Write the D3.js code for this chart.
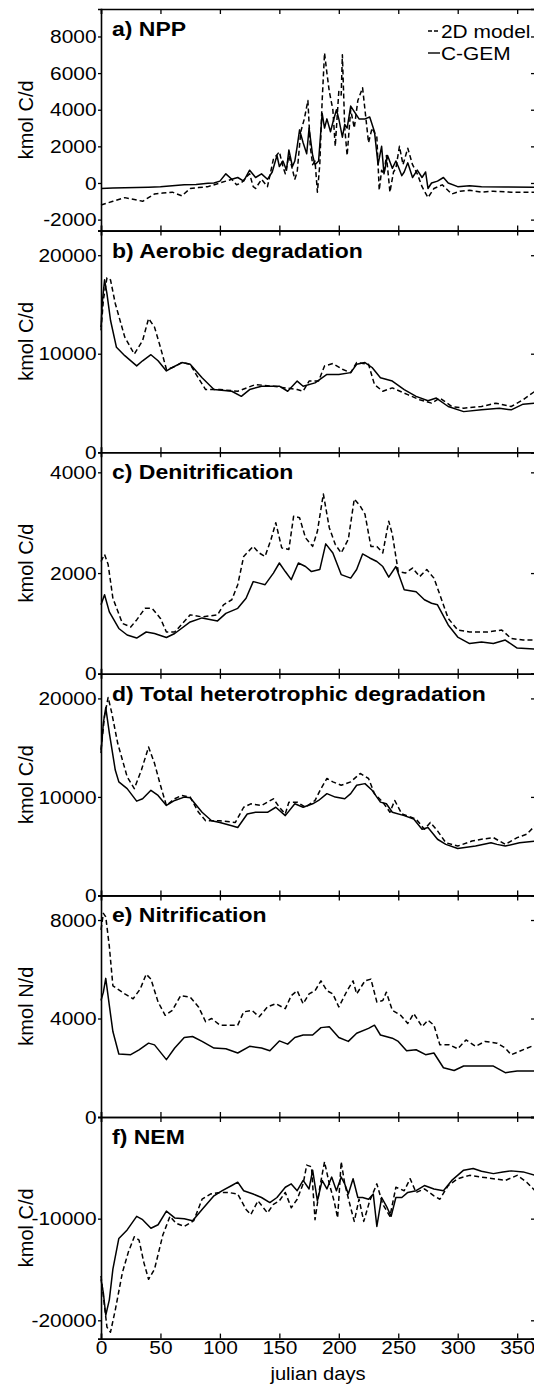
<!DOCTYPE html>
<html><head><meta charset="utf-8">
<script src="https://cdn.jsdelivr.net/npm/d3@7"></script>
<style>
html,body{margin:0;padding:0;background:#fff;}
svg{display:block;}
text{font-family:"Liberation Sans",Arial,Helvetica,sans-serif;fill:#000;}
</style></head><body>
<svg id="chart" width="534" height="1385"></svg>
<script>
// ---------- DATA ----------
const xTicks = [0, 50, 100, 150, 200, 250, 300, 350];
const panelTitles = ["a) NPP", "b) Aerobic degradation", "c) Denitrification",
  "d) Total heterotrophic degradation", "e) Nitrification", "f) NEM"];
const yLabels = ["kmol C/d", "kmol C/d", "kmol C/d", "kmol C/d", "kmol N/d", "kmol C/d"];
const yDomains = [[-2600, 9500], [0, 22500], [0, 4400], [0, 22500], [0, 9000], [-21800, 0]];
const yTicks = [[-2000, 0, 2000, 4000, 6000, 8000], [0, 10000, 20000], [0, 2000, 4000],
  [0, 10000, 20000], [0, 4000, 8000], [-20000, -10000]];
const legendLabels = ["2D model", "C-GEM"];

// a) NPP
const nppDays2D = [0,5,10,20,28,35,45,52,60,68,75,82,90,100,105,110,114,118,122,125,128,130,135,140,145,150,153,155,158,160,163,165,168,171,174,176,178,180,182,184,186,188,190,192,195,197,200,202,203,205,207,210,213,216,220,222,225,228,232,234,236,238,240,243,246,248,251,254,258,262,266,270,275,280,287,295,302,310,320,330,345,365];
const npp2D = [-1200,-1100,-1000,-800,-900,-1000,-600,-550,-500,-700,-300,-250,-200,0,100,200,-100,0,300,500,-200,-300,200,-200,1300,1700,900,500,1500,1000,200,600,2800,3500,4500,2000,1000,1200,-500,1000,4500,7100,6000,5000,4000,2000,5000,4800,7000,3000,1500,4000,3000,4500,5200,4000,2200,3000,2500,-400,700,500,1500,-500,600,800,2000,1000,1900,1000,500,-200,-800,-300,-100,-600,-450,-400,-500,-450,-500,-500];
const nppDaysCG = [0,10,20,30,40,50,60,70,80,90,95,100,105,110,115,120,125,130,135,140,144,148,150,153,156,158,161,163,165,167,170,173,175,178,180,183,186,188,190,193,195,198,200,203,205,207,210,213,217,222,226,230,233,236,238,241,245,248,250,253,255,258,262,266,270,273,275,278,283,288,292,300,310,320,340,365];
const nppCG = [-300,-280,-260,-250,-230,-200,-150,-100,-80,-20,0,100,500,200,300,100,700,300,500,200,600,1500,900,1200,700,1800,900,1200,2000,2900,2200,1600,3000,1500,1000,1200,3800,3000,3500,2800,3300,4000,3500,2500,3200,3000,4200,3900,3500,3500,3600,2800,1000,2000,500,1500,800,1200,900,400,600,1100,300,700,300,600,-300,0,100,300,0,-200,-150,-200,-220,-230];

// b) Aerobic degradation
const aerDays2D = [0,2,5,8,12,20,28,35,40,45,50,55,60,68,75,80,88,100,115,130,145,155,165,170,175,183,188,195,203,210,215,225,230,237,245,258,268,278,285,295,305,320,332,345,355,365];
const aer2D = [12370,15460,17700,17500,15100,11680,9960,11340,13570,12700,10650,8420,8590,9100,8930,7900,6360,6360,6190,6870,6700,6530,6360,6190,7220,7220,8760,9000,8420,8080,9100,8930,6870,6190,6530,5840,5330,4980,5500,4640,4470,4640,4980,4640,5330,6190];
const aerDaysCG = [0,1,3,5,8,13,20,30,35,42,48,55,60,68,75,85,95,110,118,125,135,150,157,165,170,180,190,200,210,215,222,228,235,245,255,265,275,282,292,305,320,335,345,355,365];
const aerCG = [12700,15100,17500,16100,13400,10650,9800,8760,9280,9900,9280,8250,8600,9100,8930,7560,6360,6190,5670,6360,6700,6700,6190,7220,6700,7040,7900,7900,8080,8930,9100,8600,7560,7220,6360,5670,5220,5500,4640,4120,4300,4470,4300,4880,4980];

// c) Denitrification
const denDays2D = [0,3,6,10,18,25,30,37,43,50,55,62,75,85,98,103,110,115,120,128,133,138,143,147,152,158,162,167,172,178,182,187,192,197,202,208,213,218,222,227,232,237,242,245,250,256,262,268,274,280,285,292,300,310,325,337,345,355,365];
const den2D = [2230,2370,2170,1500,1000,930,1070,1300,1300,1100,830,830,1170,1130,1170,1370,1470,1770,2330,2530,2400,2330,2670,3000,2500,2470,3130,3100,2700,2530,2830,3570,2900,2570,2400,2670,3470,3330,3170,2530,2530,2400,3030,2770,2030,2000,2100,1930,2070,1900,1570,1100,870,830,830,870,700,670,670];
const denDaysCG = [0,3,7,15,22,30,38,45,55,62,75,85,98,105,115,122,128,133,138,145,150,155,160,166,172,177,184,189,195,202,210,215,220,226,232,237,242,248,255,265,272,278,283,292,300,310,320,330,340,350,365];
const denCG = [1370,1570,1230,900,770,710,830,800,720,800,1030,1110,1050,1200,1300,1500,1830,1800,1770,2000,2200,2030,1870,2200,2130,2030,2070,2580,2400,1970,1900,2070,2380,2300,2230,2130,1920,2130,1670,1630,1470,1400,1370,970,730,600,630,600,670,510,490];

// d) Total heterotrophic degradation
const totDays2D = [0,3,6,9,14,22,28,34,40,45,50,55,62,68,75,82,88,100,113,120,126,135,145,150,155,158,165,172,180,185,190,195,202,210,218,225,230,237,243,247,253,265,272,277,283,290,300,312,320,330,340,350,358,365];
const tot2D = [14790,18220,20100,18560,15470,12040,10840,12730,15060,13410,11180,9130,9810,10150,9980,8440,7580,7580,7410,8950,9300,9130,9810,8950,8270,9470,9470,8950,9640,10840,11870,11530,11180,11530,12380,11870,10330,9470,8440,9640,8270,7750,6720,7410,6550,5350,5010,5520,5700,5870,5180,5870,6210,7070];
const totDaysCG = [0,2,4,7,12,15,22,30,35,42,48,55,62,70,75,85,93,100,110,115,123,130,140,147,155,163,170,178,183,190,197,205,210,215,222,228,235,240,245,255,263,270,275,283,290,300,315,328,333,340,352,365];
const totCG = [14440,17530,19070,16500,12730,11530,10840,9570,9810,10670,10150,9130,9640,9980,9910,8440,7580,7410,7070,6900,8270,8440,8440,8950,8100,9300,8950,9300,9640,10330,9980,9810,10330,11180,11350,10670,9470,9300,8440,8100,7750,6720,6900,5700,5180,4770,5010,5350,5180,5010,5350,5520];

// e) Nitrification
const nitDays2D = [0,2,4,7,10,14,20,27,33,38,42,48,54,60,67,75,82,88,93,100,110,115,120,127,133,140,147,155,160,165,170,175,180,185,190,195,200,207,212,215,222,227,232,237,240,245,252,258,263,270,275,280,285,293,300,307,315,323,333,340,345,352,365];
const nit2D = [7600,8270,8130,6930,5330,5200,5000,4800,5200,5800,5600,4670,4130,4330,4930,4870,4470,3870,4000,3730,3730,3730,4270,4330,4070,4470,4600,4400,4930,5130,4600,5000,5130,5530,5130,5000,4470,5130,5530,5000,5530,5600,4670,4730,5070,4330,4130,3800,4200,3670,3930,3730,2930,2930,2770,3130,2870,3070,3000,2800,2530,2670,2930];
const nitDaysCG = [0,2,4,7,10,15,25,32,40,45,55,62,70,77,85,95,105,115,125,135,142,150,157,163,170,178,185,192,200,208,215,225,230,235,245,250,257,265,273,280,288,297,305,315,330,340,350,365];
const nitCG = [4730,5070,5630,4530,3470,2560,2530,2730,3000,2930,2330,2800,3230,3270,3070,2800,2770,2600,2870,2800,2690,3090,2960,3230,3330,3330,3630,3670,3230,3070,3400,3600,3730,3330,3200,3070,2690,2730,2530,2600,2000,1890,2070,2070,2070,1800,1870,1870];

// f) NEM
const nemDays2D = [0,2,5,8,12,18,23,28,32,36,40,45,52,58,63,70,78,85,92,100,107,115,122,126,132,140,145,150,155,160,165,170,173,177,180,184,188,192,196,199,202,205,210,213,217,221,226,232,237,243,248,255,260,265,272,280,285,292,300,310,320,330,340,350,358,365];
const nem2D = [-15640,-17650,-20670,-21170,-18990,-15300,-13290,-11780,-12110,-14300,-15970,-14970,-11610,-9770,-10440,-10770,-10200,-8090,-7580,-7420,-7420,-7580,-9090,-9600,-8250,-9430,-8590,-8250,-7420,-8930,-8090,-6580,-4730,-4900,-10100,-6910,-4400,-6580,-8250,-9930,-4400,-6580,-8930,-10270,-8090,-10270,-8250,-6580,-8590,-9770,-6910,-7250,-6070,-7420,-7080,-7750,-8090,-6740,-6070,-5740,-5910,-6070,-6240,-5740,-6410,-7250];
const nemDaysCG = [0,2,4,7,10,15,22,30,35,42,48,55,62,70,77,85,95,102,110,115,120,128,135,142,148,155,160,165,170,175,178,182,186,190,194,198,202,205,208,212,216,220,225,229,232,236,240,244,248,253,258,265,272,280,288,295,305,313,320,330,338,345,355,365];
const nemCG = [-15970,-17320,-19500,-17990,-14970,-11950,-11110,-9770,-10100,-10940,-10600,-9260,-9930,-10000,-10200,-9090,-7750,-7250,-6740,-6410,-7250,-7580,-7920,-8420,-7920,-6910,-6580,-7250,-6240,-7080,-5230,-8250,-6240,-7080,-5910,-7250,-5910,-6580,-7580,-6070,-7920,-7920,-8090,-7580,-10770,-7920,-8760,-9770,-7920,-7920,-7420,-7250,-6740,-7080,-7250,-6240,-5230,-5070,-5340,-5570,-5400,-5300,-5400,-5740];

const seriesDays = [[nppDays2D, nppDaysCG],[aerDays2D, aerDaysCG],[denDays2D, denDaysCG],[totDays2D, totDaysCG],[nitDays2D, nitDaysCG],[nemDays2D, nemDaysCG]];
const seriesVals = [[npp2D, nppCG],[aer2D, aerCG],[den2D, denCG],[tot2D, totCG],[nit2D, nitCG],[nem2D, nemCG]];

// ---------- LAYOUT ----------
const svg = d3.select("#chart");
const left = 101, right = 535, top0 = 9, ph = 221.6;
const x = d3.scaleLinear().domain([0, 365]).range([left, right]);
const FS = 19, SX = 1.1;
const fmt = d => String(d);

panelTitles.forEach((title, i) => {
  const y0 = top0 + i * ph, y1 = y0 + ph;
  const y = d3.scaleLinear().domain(yDomains[i]).range([y1, y0]);
  const g = svg.append("g");

  const line = d3.line().x(d => x(d[0])).y(d => y(d[1]));
  [0, 1].forEach(s => {
    const pts = seriesDays[i][s].map((d, k) => [d, seriesVals[i][s][k]]);
    g.append("path").attr("d", line(pts)).attr("fill", "none")
      .attr("stroke", "#000").attr("stroke-width", 1.5)
      .attr("stroke-dasharray", s === 0 ? "5,3" : null)
      .attr("stroke-linejoin", "round");
  });

  const bottomAx = g.append("g").attr("transform", `translate(0,${y1})`)
    .call(d3.axisBottom(x).tickValues(xTicks).tickSize(-5).tickFormat(i === 5 ? fmt : () => ""));
  const topAx = g.append("g").attr("transform", `translate(0,${y0})`)
    .call(d3.axisTop(x).tickValues(xTicks).tickSize(-5).tickFormat(() => ""));
  const leftAx = g.append("g").attr("transform", `translate(${left},0)`)
    .call(d3.axisLeft(y).tickValues(yTicks[i]).tickSize(3).tickPadding(1).tickFormat(fmt));
  const rightAx = g.append("g").attr("transform", `translate(${right},0)`)
    .call(d3.axisRight(y).tickValues(yTicks[i]).tickSize(-4).tickFormat(() => ""));
  [bottomAx, topAx, leftAx, rightAx].forEach(a => {
    a.select(".domain").attr("stroke", "#000").attr("stroke-width", 1.6);
    a.selectAll(".tick line").attr("stroke", "#000").attr("stroke-width", 1.3);
    a.selectAll("text").attr("font-size", FS).attr("font-family", "Liberation Sans, Arial, sans-serif")
      .attr("fill", "#000").attr("transform", `scale(${SX},1)`);
  });
  bottomAx.selectAll("text").attr("y", 2).attr("dy", "0.71em");

  g.append("text").attr("transform", `translate(112,${y0 + 27}) scale(1.15,1)`)
    .attr("font-size", 20).attr("font-weight", "bold").text(title);

  g.append("text").attr("transform", `translate(33,${(y0 + y1) / 2}) rotate(-90)`)
    .attr("text-anchor", "middle").attr("font-size", 20).text(yLabels[i]);

  if (i === 0) {
    legendLabels.forEach((lab, k) => {
      const ly = y0 + 29 + k * 22;
      g.append("line").attr("x1", 428).attr("x2", 440).attr("y1", ly - 7).attr("y2", ly - 7)
        .attr("stroke", "#000").attr("stroke-width", 1.4)
        .attr("stroke-dasharray", k === 0 ? "4,2" : null);
      g.append("text").attr("transform", `translate(441,${ly}) scale(${SX},1)`)
        .attr("font-size", FS).text(lab);
    });
  }
});

svg.append("text").attr("transform", `translate(${(left + right) / 2},1380) scale(1.06,1)`)
  .attr("text-anchor", "middle").attr("font-size", FS).text("julian days");
</script>
</body></html>
